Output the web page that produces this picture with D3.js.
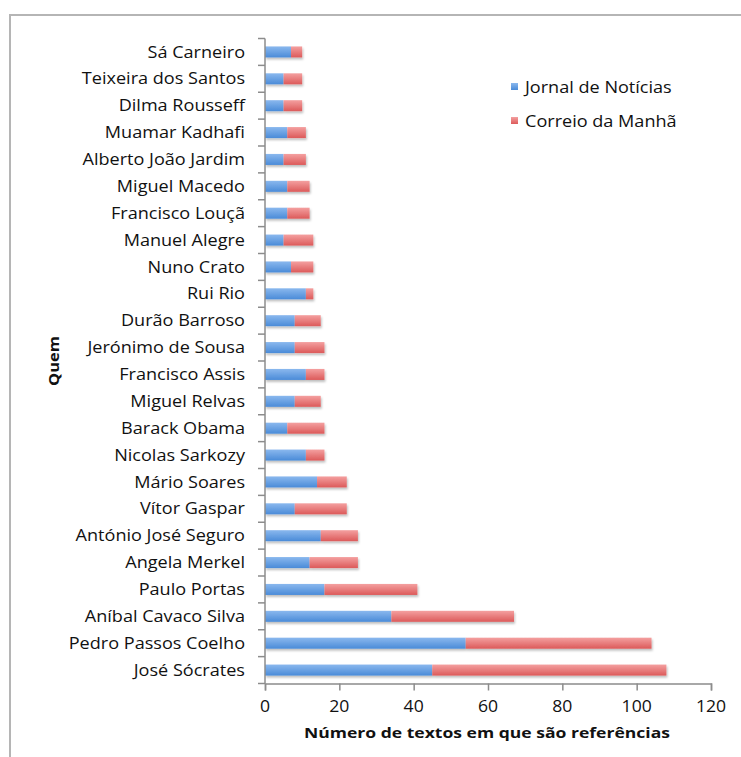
<!DOCTYPE html>
<html>
<head>
<meta charset="utf-8">
<script src="https://cdn.jsdelivr.net/npm/d3@7/dist/d3.min.js"></script>
<style>
  html, body { margin: 0; padding: 0; background: #fff; }
  svg { display: block; }
  text { font-family: "Open Sans", "Noto Sans", sans-serif; fill: #111; }
</style>
</head>
<body>
<svg id="chart" width="741" height="757"></svg>
<script>
// Names, top to bottom
const people = [
  "Sá Carneiro", "Teixeira dos Santos", "Dilma Rousseff", "Muamar Kadhafi",
  "Alberto João Jardim", "Miguel Macedo", "Francisco Louçã", "Manuel Alegre",
  "Nuno Crato", "Rui Rio", "Durão Barroso", "Jerónimo de Sousa",
  "Francisco Assis", "Miguel Relvas", "Barack Obama", "Nicolas Sarkozy",
  "Mário Soares", "Vítor Gaspar", "António José Seguro", "Angela Merkel",
  "Paulo Portas", "Aníbal Cavaco Silva", "Pedro Passos Coelho", "José Sócrates"
];
const jornalNoticias = [7, 5, 5, 6, 5, 6, 6, 5, 7, 11, 8, 8, 11, 8, 6, 11, 14, 8, 15, 12, 16, 34, 54, 45];
const correioManha   = [3, 5, 5, 5, 6, 6, 6, 8, 6, 2, 7, 8, 5, 7, 10, 5, 8, 14, 10, 13, 25, 33, 50, 63];
const seriesNames = ["Jornal de Notícias", "Correio da Manhã"];
const xTicks = [0, 20, 40, 60, 80, 100, 120];

const svg = d3.select("#chart");
const plotLeft = 265, plotRight = 711, plotTop = 38.5, plotBottom = 683.5;
const axisGrey = "#8c8c8c";

// Text set in a slightly widened face
function wideText(parent, tx, ty, str, opts) {
  const o = Object.assign({ size: 16, sx: 1.13, anchor: "start", weight: "normal", rotate: 0 }, opts);
  return parent.append("text")
    .attr("transform", `translate(${tx},${ty}) rotate(${o.rotate}) scale(${o.sx},1)`)
    .attr("dy", "0.35em")
    .attr("text-anchor", o.anchor)
    .style("font-size", o.size + "px")
    .style("font-weight", o.weight)
    .text(str);
}

// Outer frame
svg.append("path")
  .attr("d", "M10,757 L10,15 L741,15")
  .attr("fill", "none").attr("stroke", "#b5b5b5").attr("stroke-width", 2);

const defs = svg.append("defs");
function grad(id, c1, c2) {
  const g = defs.append("linearGradient").attr("id", id)
    .attr("x1", 0).attr("y1", 0).attr("x2", 0).attr("y2", 1);
  g.append("stop").attr("offset", "0%").attr("stop-color", c1);
  g.append("stop").attr("offset", "100%").attr("stop-color", c2);
}
grad("gBlue", "#8ab8ee", "#4a8bd8");
grad("gRed", "#f4a0a0", "#dc5a5a");
const shadow = defs.append("filter").attr("id", "shadow")
  .attr("x", "-5%").attr("y", "-30%").attr("width", "110%").attr("height", "180%");
shadow.append("feDropShadow").attr("dx", 1).attr("dy", 2).attr("stdDeviation", 1.2)
  .attr("flood-color", "#000").attr("flood-opacity", 0.25);

const x = d3.scaleLinear().domain([0, 120]).range([plotLeft, plotRight]);
const y = d3.scaleBand().domain(people).range([plotTop, plotBottom]).paddingInner(0.59).paddingOuter(0.295);

const rows = people.map((p, i) => ({ name: p, a: jornalNoticias[i], b: correioManha[i] }));

const bars = svg.append("g").attr("filter", "url(#shadow)");
bars.selectAll("rect.a").data(rows).join("rect")
  .attr("x", x(0)).attr("y", d => y(d.name))
  .attr("width", d => x(d.a) - x(0)).attr("height", y.bandwidth())
  .attr("fill", "url(#gBlue)");
bars.selectAll("rect.b").data(rows).join("rect")
  .attr("x", d => x(d.a)).attr("y", d => y(d.name))
  .attr("width", d => x(d.a + d.b) - x(d.a)).attr("height", y.bandwidth())
  .attr("fill", "url(#gRed)");

// Category axis: ticks at band edges
const yAxis = svg.append("g");
yAxis.append("line").attr("x1", plotLeft).attr("x2", plotLeft).attr("y1", plotTop).attr("y2", plotBottom)
  .attr("stroke", axisGrey).attr("stroke-width", 1.5);
const step = y.step();
d3.range(people.length + 1).forEach(i => {
  const yy = plotTop + i * step;
  yAxis.append("line").attr("x1", plotLeft - 7).attr("x2", plotLeft).attr("y1", yy).attr("y2", yy)
    .attr("stroke", axisGrey).attr("stroke-width", 1.5);
});
people.forEach(p => wideText(yAxis, 245, y(p) + y.bandwidth() / 2, p, { anchor: "end" }));

// Value axis
const xAxis = svg.append("g").attr("transform", `translate(0,${plotBottom})`)
  .call(d3.axisBottom(x).tickValues(xTicks).tickSize(7).tickFormat(""));
xAxis.select(".domain").attr("stroke", axisGrey).attr("stroke-width", 1.5);
xAxis.selectAll(".tick line").attr("stroke", axisGrey).attr("stroke-width", 1.5);
xTicks.forEach(t => wideText(svg, x(t), 706.5, String(t), { anchor: "middle", size: 16, sx: 1.1 }));

wideText(svg, 487, 733, "Número de textos em que são referências",
  { anchor: "middle", size: 15, sx: 1.17, weight: "bold" });

wideText(svg, 54, 361, "Quem",
  { anchor: "middle", size: 15, sx: 1.1, weight: "bold", rotate: -90 });

// Legend
const legend = svg.append("g");
[["url(#gBlue)", 87], ["url(#gRed)", 121]].forEach(([fill, ly], i) => {
  legend.append("rect").attr("x", 511).attr("y", ly - 4).attr("width", 7).attr("height", 7)
    .attr("fill", fill);
  wideText(legend, 525, ly, seriesNames[i], { size: 16, sx: 1.13 });
});
</script>
</body>
</html>
